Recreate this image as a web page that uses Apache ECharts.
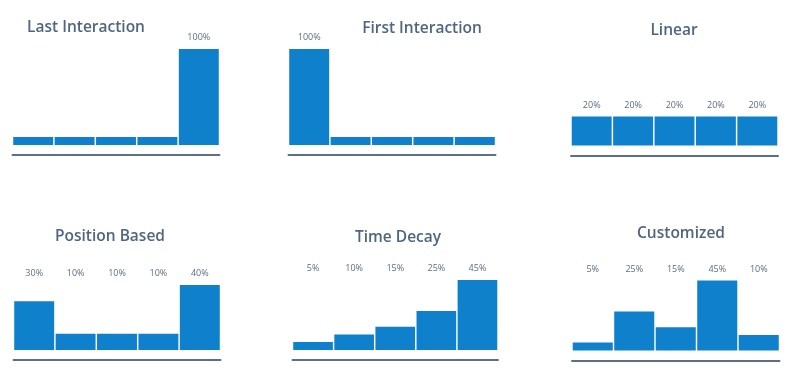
<!DOCTYPE html>
<html>
<head>
<meta charset="utf-8">
<script src="https://cdn.jsdelivr.net/npm/echarts@6/dist/echarts.min.js"></script>
<style>html,body{margin:0;padding:0;background:#fff}#c{width:793px;height:385px}</style>
</head>
<body>
<div id="c"></div>
<script>
const categories = ['1', '2', '3', '4', '5'];
const titles = ['Last Interaction', 'First Interaction', 'Linear', 'Position Based', 'Time Decay', 'Customized'];
const lastValues = [0, 0, 0, 0, 100];
const firstValues = [100, 0, 0, 0, 0];
const linearValues = [20, 20, 20, 20, 20];
const positionValues = [30, 10, 10, 10, 40];
const decayValues = [5, 10, 15, 25, 45];
const customValues = [5, 25, 15, 45, 10];
const lastLabels = ['', '', '', '', '100%'];
const firstLabels = ['100%', '', '', '', ''];
const linearLabels = ['20%', '20%', '20%', '20%', '20%'];
const positionLabels = ['30%', '10%', '10%', '10%', '40%'];
const decayLabels = ['5%', '10%', '15%', '25%', '45%'];
const customLabels = ['5%', '25%', '15%', '45%', '10%'];

const seriesValues = [lastValues, firstValues, linearValues, positionValues, decayValues, customValues];
const seriesLabels = [lastLabels, firstLabels, linearLabels, positionLabels, decayLabels, customLabels];

// layout (positions only)
const panels = [
  {left: 12.5, width: 207, top: 49, height: 96, max: 100, tx: 86, ty: 27.5},
  {left: 288.5, width: 207, top: 49, height: 96, max: 100, tx: 422, ty: 28.5},
  {left: 571, width: 207, top: 116.5, height: 29, max: 20, tx: 674, ty: 30.5},
  {left: 13.5, width: 207, top: 285, height: 65, max: 40, tx: 110, ty: 236.5},
  {left: 292.5, width: 205.5, top: 280, height: 70, max: 45, tx: 398, ty: 237.5},
  {left: 572, width: 207.5, top: 280.5, height: 70, max: 45, tx: 681, ty: 233.5}
];

const textColor = '#4f6580';
const barColor = '#0f80cc';

const grid = [], xAxis = [], yAxis = [], series = [], graphic = [];
panels.forEach((p, i) => {
  grid.push({left: p.left, width: p.width, top: p.top, height: p.height, containLabel: false});
  xAxis.push({
    type: 'category', gridIndex: i, data: categories, position: 'bottom', offset: 10,
    axisLine: {show: true, onZero: false, lineStyle: {color: '#5b6f88', width: 2}},
    axisTick: {show: false}, axisLabel: {show: false}, splitLine: {show: false}
  });
  xAxis.push({
    type: 'category', gridIndex: i, data: seriesLabels[i], position: 'top',
    axisLine: {show: false}, axisTick: {show: false}, splitLine: {show: false},
    axisLabel: {show: true, interval: 0, margin: 7, fontSize: 9, color: '#5a6e85', fontFamily: 'Open Sans'}
  });
  yAxis.push({type: 'value', gridIndex: i, min: 0, max: p.max, show: false});
  series.push({
    type: 'bar', xAxisIndex: i * 2, yAxisIndex: i, data: seriesValues[i],
    barCategoryGap: '3.5%', barMinHeight: 8, silent: true,
    itemStyle: {color: barColor}
  });
  graphic.push({
    type: 'text', x: p.tx, y: p.ty,
    style: {text: titles[i], fill: textColor, font: '600 15.5px "Open Sans"', align: 'center', verticalAlign: 'middle'}
  });
});

const chart = echarts.init(document.getElementById('c'), null, {renderer: 'canvas'});
chart.setOption({animation: false, grid, xAxis, yAxis, series, graphic});
</script>
</body>
</html>
